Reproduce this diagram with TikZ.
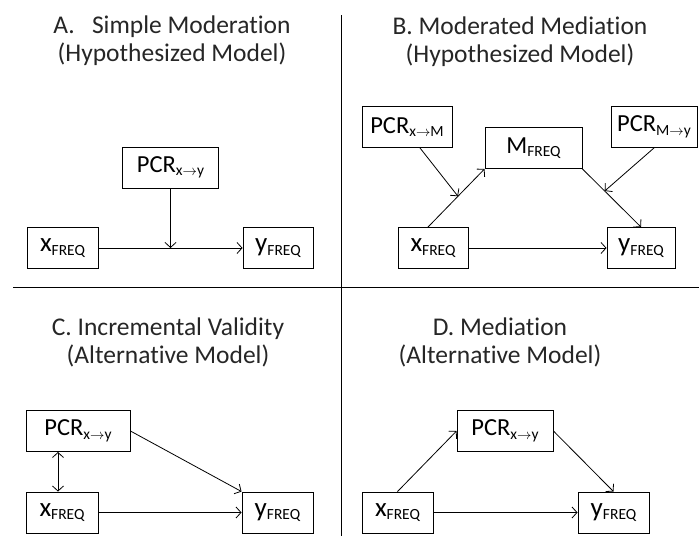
\documentclass[tikz,border=0pt]{standalone}
\usepackage{fontspec}
\setmainfont[Ligatures=NoCommon]{Carlito}
\usepackage{tikz}
\usetikzlibrary{arrows.meta}
\newcommand\lo[1]{\raisebox{-3.5pt}{\fontsize{15.5}{15}\selectfont #1}}
\newcommand\ar{\ensuremath{\rightarrow}}
\newcommand\varbig[1]{{\fontsize{27}{27}\selectfont #1}}
\begin{document}
\begin{tikzpicture}[x=1pt,y=-1pt]
		\tikzstyle{every node}+=[inner sep=0pt]
		\tikzstyle{box}=[draw, line width=0.9pt, minimum height=41pt, font=\fontsize{24.5}{27}\selectfont]
		\tikzstyle{ttl}=[align=center, font=\fontsize{25.5}{28}\selectfont, text=black!85]
		\tikzstyle{arr}=[line width=0.8pt, -{Straight Barb[length=5pt,width=11pt]}]
		\tikzstyle{dbl}=[line width=0.8pt, {Straight Barb[length=5pt,width=11pt]}-{Straight Barb[length=5pt,width=11pt]}]
		\useasboundingbox (0,0) rectangle (699,536);
		\draw [line width=0.9pt] (341,15) -- (341,536);
		\draw [line width=0.9pt] (13,287) -- (699,287);
		\node [ttl] (titleA) at (172,41) {A.\ \ \ Simple Moderation\\(Hypothesized Model)};
		\node [box, minimum width=96pt] (pcrA) at (170.5,167.5) {PCR\lo{x\ar y}};
		\node [box, minimum width=71pt] (xA) at (62.5,248) {\varbig{x}\lo{FREQ}};
		\node [box, minimum width=70pt] (yA) at (278,248) {\varbig{y}\lo{FREQ}};
		\draw [arr] (xA) -- (yA);
		\draw [arr] (pcrA.south) -- (pcrA |- xA.center);
		\node [ttl] (titleB) at (520,42) {B. Moderated Mediation\\(Hypothesized Model)};
		\node [box, minimum width=90pt] (pcrxm) at (407,127) {PCR\lo{x\ar M}};
		\node [box, minimum width=86pt] (pcrmy) at (654,127) {PCR\lo{M\ar y}};
		\node [box, minimum width=97pt] (mB) at (533.5,148) {M\lo{FREQ}};
		\node [box, minimum width=70pt] (xB) at (433,248) {\varbig{x}\lo{FREQ}};
		\node [box, minimum width=68pt] (yB) at (641,248) {\varbig{y}\lo{FREQ}};
		\draw [arr] (xB) -- (yB);
		\draw [arr] ([xshift=-5pt]xB.north) -- (mB.south west) coordinate [pos=0.53] (jxm);
		\draw [arr] (mB.south east) -- (yB.north) coordinate [pos=0.38] (jmy);
		\draw [arr] ([xshift=13pt]pcrxm.south) -- (jxm);
		\draw [arr] (pcrmy.south) -- (jmy);
		\node [ttl] (titleC) at (168,342) {C. Incremental Validity\\(Alternative Model)};
		\node [box, minimum width=104pt] (pcrC) at (78,431) {PCR\lo{x\ar y}};
		\node [box, minimum width=72pt] (xC) at (62,512.5) {\varbig{x}\lo{FREQ}};
		\node [box, minimum width=71pt] (yC) at (277.5,512.5) {\varbig{y}\lo{FREQ}};
		\draw [arr] (xC) -- (yC);
		\draw [arr] (pcrC.east) -- (yC.north west);
		\draw [dbl] ([xshift=-20pt]pcrC.south) -- ([xshift=-20pt]pcrC.south |- xC.north);
		\node [ttl] (titleD) at (500,342) {D. Mediation\\(Alternative Model)};
		\node [box, minimum width=96pt] (pcrD) at (505,431) {PCR\lo{x\ar y}};
		\node [box, minimum width=71pt] (xD) at (397.5,512.5) {\varbig{x}\lo{FREQ}};
		\node [box, minimum width=71pt] (yD) at (613.5,512.5) {\varbig{y}\lo{FREQ}};
		\draw [arr] (xD) -- (yD);
		\draw [arr] (xD.north) -- (pcrD.west);
		\draw [arr] (pcrD.east) -- (yD.north);
		\end{tikzpicture}
\end{document}
